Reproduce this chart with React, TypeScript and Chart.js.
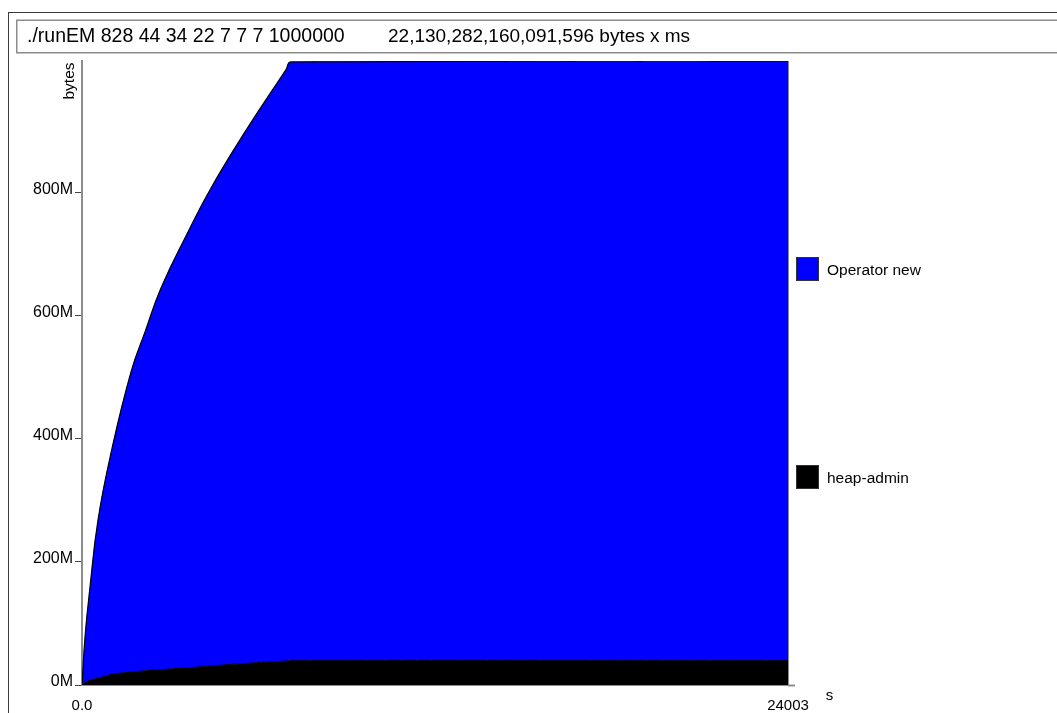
import React, { useEffect, useRef } from "react";
import { Chart, registerables } from "chart.js";

Chart.register(...registerables);

// Run header
const commandLine = "./runEM 828 44 34 22 7 7 7 1000000";
const totalCost = "22,130,282,160,091,596 bytes x ms";

// Series (bottom to top of the stack)
const seriesNames = ["heap-admin", "Operator new"];
const seriesColors = ["#000000", "#0000ff"];

// Snapshot times in seconds
const timeSeconds = [0, 102, 272, 544, 986, 1666, 2142, 2686, 3604, 4386, 5542, 6936, 7106, 24003];
// Heap administration bytes per snapshot
const heapAdminBytes = [0, 4e6, 8e6, 11e6, 17e6, 21e6, 23e6, 25e6, 28e6, 31e6, 35e6, 39e6, 39.5e6, 39.5e6];
// operator new bytes per snapshot
const operatorNewBytes = [0, 74e6, 151.3e6, 257.3e6, 360.2e6, 487.9e6, 551e6, 620.5e6, 708.6e6, 777.1e6, 864.2e6, 961.6e6, 973.5e6, 975e6];

const yTickValues = [0, 200e6, 400e6, 600e6, 800e6];
const xTickValues = [0, 24003];
const xTickLabels = ["0.0", "24003"];

const FONT = "'Liberation Sans', Arial, Helvetica, sans-serif";

const peakBytes = Math.max(...heapAdminBytes.map((v, i) => v + operatorNewBytes[i]));

const frameAndLegend = {
  id: "frameAndLegend",
  afterDraw(chart: any) {
    const { ctx } = chart;
    const x = chart.scales.x;
    const y = chart.scales.y;
    ctx.save();

    // outer frame
    ctx.strokeStyle = "#3a3a3a";
    ctx.lineWidth = 1;
    ctx.strokeRect(8.5, 12.5, chart.width + 20, chart.height + 20);

    // header box
    ctx.strokeStyle = "#8c8c8c";
    ctx.lineWidth = 1.5;
    ctx.strokeRect(16.75, 20.25, chart.width + 20, 32.5);

    ctx.fillStyle = "#000";
    ctx.textBaseline = "middle";
    ctx.textAlign = "left";
    ctx.font = `19.5px ${FONT}`;
    ctx.fillText(commandLine, 27, 37);
    ctx.font = `19px ${FONT}`;
    ctx.fillText(totalCost, 388, 37);

    // axis titles
    ctx.font = `15.5px ${FONT}`;
    ctx.save();
    ctx.translate(70, 81);
    ctx.rotate(-Math.PI / 2);
    ctx.textAlign = "center";
    ctx.fillText("bytes", 0, 0);
    ctx.restore();
    ctx.textAlign = "center";
    ctx.font = `15px ${FONT}`;
    ctx.fillText("s", 829.5, 696);

    // x axis runs slightly past the last snapshot
    ctx.strokeStyle = "#8c8c8c";
    ctx.lineWidth = 2;
    ctx.beginPath();
    ctx.moveTo(x.right, y.bottom + 0.5);
    ctx.lineTo(x.right + 7, y.bottom + 0.5);
    ctx.stroke();

    // right edge of the last snapshot
    const last = timeSeconds.length - 1;
    const xr = Math.round(x.getPixelForValue(timeSeconds[last])) + 0.5;
    ctx.lineWidth = 1;
    ctx.beginPath();
    ctx.moveTo(xr, y.getPixelForValue(heapAdminBytes[last] + operatorNewBytes[last]));
    ctx.lineTo(xr, y.bottom);
    ctx.stroke();

    // legend
    const legendRows = [
      { name: seriesNames[1], color: seriesColors[1], top: 257 },
      { name: seriesNames[0], color: seriesColors[0], top: 465 },
    ];
    ctx.textAlign = "left";
    ctx.font = `15.5px ${FONT}`;
    for (const row of legendRows) {
      ctx.fillStyle = row.color;
      ctx.fillRect(796, row.top, 23, 24);
      ctx.strokeStyle = "#333";
      ctx.lineWidth = 1;
      ctx.strokeRect(796.5, row.top + 0.5, 22, 23);
      ctx.fillStyle = "#000";
      ctx.fillText(row.name, 827, row.top + 14);
    }
    ctx.restore();
  },
};

export default function App() {
  const canvasRef = useRef<HTMLCanvasElement>(null);

  useEffect(() => {
    const canvas = canvasRef.current;
    if (!canvas) return;
    const chart = new Chart(canvas, {
      type: "line",
      data: {
        datasets: [
          {
            label: seriesNames[0],
            data: timeSeconds.map((t, i) => ({ x: t, y: heapAdminBytes[i] })),
            backgroundColor: seriesColors[0],
            borderColor: "#000",
            borderWidth: 1,
            fill: "origin",
            pointRadius: 0,
            tension: 0.45,
          },
          {
            label: seriesNames[1],
            data: timeSeconds.map((t, i) => ({ x: t, y: operatorNewBytes[i] })),
            backgroundColor: seriesColors[1],
            borderColor: "#000",
            borderWidth: 1.2,
            fill: "-1",
            pointRadius: 0,
            tension: 0.45,
          },
        ],
      },
      options: {
        animation: false,
        responsive: false,
        devicePixelRatio: 1,
        layout: { padding: { top: 61, right: 269, bottom: 0, left: 0 } },
        plugins: { legend: { display: false }, tooltip: { enabled: false } },
        scales: {
          x: {
            type: "linear",
            min: 0,
            max: timeSeconds[timeSeconds.length - 1],
            afterFit: (s: any) => {
              s.height = 28;
            },
            afterBuildTicks: (s: any) => {
              s.ticks = xTickValues.map((value) => ({ value }));
            },
            ticks: {
              autoSkip: false,
              maxRotation: 0,
              padding: 12,
              color: "#000",
              font: { family: FONT, size: 15 },
              callback: (v: any) => xTickLabels[xTickValues.indexOf(Number(v))] ?? "",
            },
            grid: { drawOnChartArea: false, drawTicks: false },
            border: { display: true, color: "#8c8c8c", width: 2 },
          },
          y: {
            type: "linear",
            stacked: true,
            min: 0,
            max: peakBytes,
            afterFit: (s: any) => {
              s.width = 82;
            },
            afterBuildTicks: (s: any) => {
              s.ticks = yTickValues.map((value) => ({ value }));
            },
            ticks: {
              padding: 2,
              labelOffset: -3,
              color: "#000",
              font: { family: FONT, size: 16 },
              callback: (v: any) => `${Math.round(Number(v) / 1e6)}M`,
            },
            grid: { drawOnChartArea: false, drawTicks: true, tickLength: 7, color: "#444", lineWidth: 1 },
            border: { display: true, color: "#8c8c8c", width: 2 },
          },
        },
      },
      plugins: [frameAndLegend],
    });
    return () => chart.destroy();
  }, []);

  return (
    <div style={{ position: "fixed", left: 0, top: 0, width: 1057, height: 713, background: "#fff" }}>
      <canvas ref={canvasRef} width={1057} height={713} style={{ display: "block" }} />
    </div>
  );
}
